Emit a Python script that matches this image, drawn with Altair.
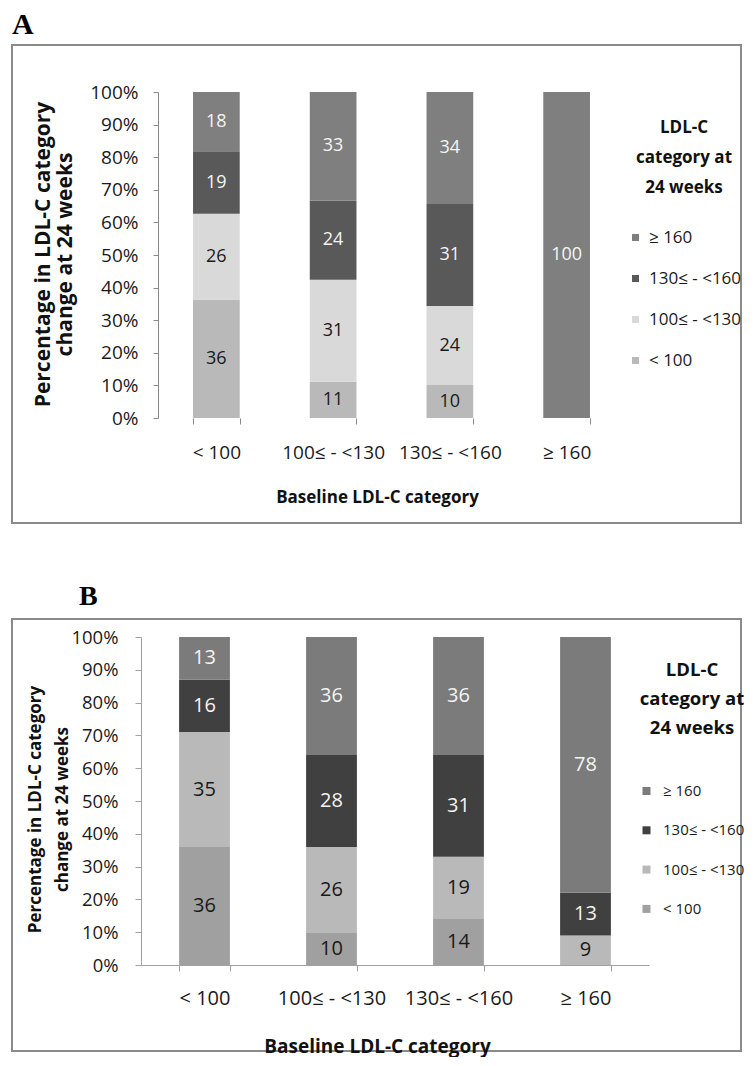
import altair as alt
import pandas as pd

# Categories
baseline_cats = ["< 100", "100≤ - <130", "130≤ - <160", "≥ 160"]
followup_cats = ["< 100", "100≤ - <130", "130≤ - <160", "≥ 160"]   # bottom -> top in bar
legend_order = ["≥ 160", "130≤ - <160", "100≤ - <130", "< 100"]
y_ticks = [0, 0.1, 0.2, 0.3, 0.4, 0.5, 0.6, 0.7, 0.8, 0.9, 1.0]

# Panel A values (per baseline category)
a_lt100 = [36, 11, 10, 0]
a_100_130 = [26, 31, 24, 0]
a_130_160 = [19, 24, 31, 0]
a_ge160 = [18, 33, 34, 100]

# Panel B values (per baseline category)
b_lt100 = [36, 10, 14, 0]
b_100_130 = [35, 26, 19, 9]
b_130_160 = [16, 28, 31, 13]
b_ge160 = [13, 36, 36, 78]

colors_a = ["#7f7f7f", "#595959", "#d9d9d9", "#b9b9b9"]   # legend order
colors_b = ["#7b7b7b", "#404040", "#b9b9b9", "#a0a0a0"]

y_title = ["Percentage in LDL-C category", "change at 24 weeks"]
y_title_b = ["Percentage  in LDL-C category", "change at 24 weeks"]
x_title = "Baseline LDL-C category"
legend_title = ["LDL-C", "category at", "24 weeks"]


def make_df(series):
    rows = []
    for ci, cat in enumerate(followup_cats):
        for bi, b in enumerate(baseline_cats):
            v = series[ci][bi]
            if v > 0:
                rows.append({"baseline": b, "cat": cat, "ord": ci, "value": v})
    return pd.DataFrame(rows)


def panel(df, colors, P):
    base = alt.Chart(df).transform_stack(
        stack="value", groupby=["baseline"], as_=["y0", "y1"], offset="normalize",
        sort=[alt.SortField("ord", order="ascending")],
    ).transform_calculate(ymid="(datum.y0 + datum.y1) / 2")

    xscale = alt.Scale(range=[P["x0"], P["x1"]], paddingInner=0.6, paddingOuter=0.3)
    yscale = alt.Scale(domain=[0, 1], range=[P["ybot"], P["ytop"]])

    xaxis = alt.Axis(
        orient="bottom", offset=-(P["h"] - P["ybot"]), labelAngle=0,
        tickBand="extent", ticks=True, tickSize=6, tickColor=P["axcol"],
        domain=P["xdomain"], domainColor=P["axcol"],
        labelFont=P["font"], labelFontSize=P["xlabsize"], labelColor="#1a1a1a",
        labelPadding=P["xlabpad"], grid=False,
        title=x_title, titleFont=P["tfont"], titleFontSize=P["tsize"], titleFontWeight="bold",
        titleColor="#111", titleX=P["xtx"], titleY=P["xty"], titleBaseline="middle",
        titleAlign="center",
    )
    yaxis = alt.Axis(
        orient="left", offset=-P["x0"], values=y_ticks, format=".0%",
        ticks=True, tickSize=P["ytick"], tickColor=P["axcol"], domainColor=P["axcol"],
        labelFont=P["font"], labelFontSize=P["ylabsize"], labelColor="#1a1a1a",
        labelPadding=P["ylabpad"], grid=False,
        title=P["ytitle"], titleFont=P["ytfont"], titleFontSize=P["ytsize"],
        titleFontWeight="bold", titleColor="#111", titleAngle=270,
        titleX=P["ytx"], titleY=P["yty"], titleBaseline="middle", titleAlign="center",
        titleLineHeight=P["ytlh"],
    )

    bars = base.mark_bar().encode(
        x=alt.X("baseline:N", sort=baseline_cats, scale=xscale, axis=xaxis),
        y=alt.Y("y0:Q", scale=yscale, axis=yaxis),
        y2="y1:Q",
        color=alt.Color(
            "cat:N",
            scale=alt.Scale(domain=legend_order, range=colors),
            legend=alt.Legend(
                title=legend_title, orient="none", legendX=P["lx"], legendY=P["ly"],
                titleFont=P["tfont"], titleFontSize=P["ltsize"], titleFontWeight="bold",
                titleColor="#111", titleAnchor="middle", titleAlign="center",
                titleLineHeight=P["ltlh"], titlePadding=P["ltpad"],
                labelFont=P["font"], labelFontSize=P["llsize"], labelColor="#1a1a1a",
                labelOffset=P["loff"], symbolType="square", symbolSize=P["symsize"],
                symbolStrokeWidth=0, rowPadding=P["rowpad"], padding=0, labelLimit=200,
            ),
        ),
    )
    text = base.mark_text(font=P["font"], fontSize=P["dsize"], baseline="middle").encode(
        x=alt.X("baseline:N", sort=baseline_cats, scale=xscale),
        y=alt.Y("ymid:Q", scale=yscale),
        text=alt.Text("value:Q"),
        color=alt.condition(
            alt.FieldOneOfPredicate(field="cat", oneOf=["≥ 160", "130≤ - <160"]),
            alt.value("#f4f4f4"), alt.value("#1a1a1a"),
        ),
    )
    return alt.layer(bars, text).properties(
        width=P["w"], height=P["h"],
        view=alt.ViewBackground(stroke="#8a8a8a", strokeWidth=2, fill="white"),
        title=alt.TitleParams(
            P["label"], anchor="start", font="Liberation Serif", fontSize=P["lab_size"],
            fontWeight="bold", color="black", baseline="alphabetic", offset=0,
            dx=P["lab_dx"], dy=P["lab_dy"],
        ),
    )


PA = dict(
    w=729, h=478, x0=146, x1=613, ybot=373, ytop=47,
    font="Open Sans", tfont="Open Sans",
    ytfont="Open Sans", ytsize=21, ytlh=22, ytitle=y_title,
    axcol="#8a8a8a", xdomain=False, xlabsize=19, xlabpad=19,
    tsize=17, xtx=365, xty=79,
    ytick=5, ylabsize=19, ylabpad=15, ytx=-115, yty=209,
    lx=615, ly=75, ltsize=17, ltlh=30, ltpad=32, llsize=17, loff=5, symsize=49, rowpad=23,
    dsize=18, label="A", lab_size=30, lab_dx=0, lab_dy=19,
)
PB = dict(
    w=729, h=432, x0=129, x1=637, ybot=346, ytop=18,
    font="Open Sans", tfont="Open Sans",
    ytfont="Open Sans", ytsize=17, ytlh=27, ytitle=y_title_b,
    axcol="#a0a0a0", xdomain=True, xlabsize=20, xlabpad=17,
    tsize=19, xtx=365, xty=81,
    ytick=6, ylabsize=18.5, ylabpad=17, ytx=-106, yty=190,
    lx=627, ly=42, ltsize=18.5, ltlh=29, ltpad=46, llsize=15, loff=9, symsize=64, rowpad=23.3,
    dsize=20, label="B", lab_size=28, lab_dx=67, lab_dy=14,
)

chart_a = panel(make_df([a_lt100, a_100_130, a_130_160, a_ge160]), colors_a, PA)
chart_b = panel(make_df([b_lt100, b_100_130, b_130_160, b_ge160]), colors_b, PB)

chart = alt.vconcat(chart_a, chart_b, spacing=58).resolve_scale(
    color="independent", x="independent", y="independent"
).resolve_legend(color="independent").properties(
    padding={"left": 3, "top": 1, "right": 0, "bottom": 0},
).configure(background="white")

chart.save("out.html", embed_options={"renderer": "svg", "actions": False})
